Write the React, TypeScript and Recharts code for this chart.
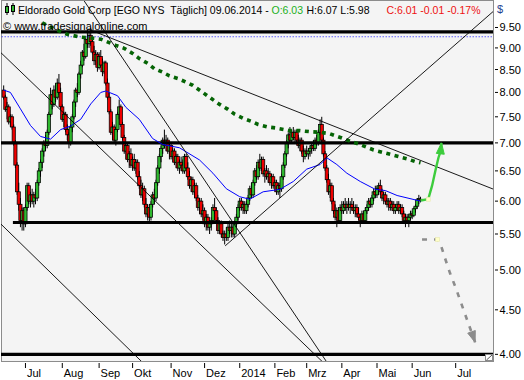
import React from 'react';
import { ComposedChart, Bar, Line, XAxis, YAxis } from 'recharts';

type OHLC = [number, number, number, number];

// Daily candles [open, high, low, close], grouped by month (EGO, NYSE)
const jun13: OHLC[] = [
  [8.05, 8.15, 7.85, 7.90], [7.90, 7.95, 7.60, 7.65], [7.65, 7.80, 7.45, 7.70], [7.70, 7.75, 7.35, 7.40],
  [7.40, 7.55, 7.30, 7.50], [7.50, 7.55, 7.25, 7.30], [7.30, 7.35, 6.95, 7.00], [7.00, 7.05, 6.55, 6.60],
  [6.60, 6.65, 6.10, 6.15], [6.15, 6.30, 5.85, 5.95], [5.95, 6.05, 5.60, 5.70], [5.70, 5.90, 5.55, 5.85],
  [5.85, 5.90, 5.55, 5.65],
];
const jul13: OHLC[] = [
  [5.65, 5.95, 5.60, 5.90], [5.90, 6.30, 5.85, 6.25], [6.25, 6.30, 5.95, 6.00], [6.00, 6.15, 5.90, 6.10],
  [6.10, 6.20, 5.95, 6.00], [6.00, 6.15, 5.90, 6.10], [6.10, 6.20, 5.95, 6.05], [6.05, 6.35, 6.00, 6.30],
  [6.30, 6.55, 6.25, 6.50], [6.50, 6.70, 6.40, 6.65], [6.65, 6.90, 6.55, 6.85], [6.85, 7.05, 6.75, 7.00],
  [7.00, 7.15, 6.85, 6.95], [6.95, 7.25, 6.90, 7.20], [7.20, 7.60, 7.15, 7.55], [7.55, 8.10, 7.50, 7.95],
  [7.95, 8.05, 7.65, 7.75], [7.75, 8.15, 7.70, 8.05], [8.05, 8.20, 7.80, 7.90], [7.90, 8.30, 7.85, 8.20],
  [8.20, 8.40, 7.95, 8.00], [8.00, 8.10, 7.65, 7.70],
];
const aug13: OHLC[] = [
  [7.70, 7.75, 7.40, 7.45], [7.45, 7.60, 7.30, 7.55], [7.55, 7.60, 7.20, 7.25], [7.25, 7.35, 7.05, 7.15],
  [7.15, 7.20, 6.90, 7.00], [7.00, 7.35, 6.95, 7.30], [7.30, 7.55, 7.20, 7.50], [7.50, 7.85, 7.45, 7.80],
  [7.80, 8.10, 7.70, 8.05], [8.05, 8.20, 7.90, 8.00], [8.00, 8.45, 7.95, 8.40], [8.40, 8.70, 8.30, 8.60],
  [8.60, 8.95, 8.55, 8.90], [8.90, 9.10, 8.70, 8.80], [8.80, 9.25, 8.75, 9.20], [9.20, 9.45, 9.00, 9.10],
  [9.10, 9.40, 9.00, 9.30], [9.30, 9.50, 9.05, 9.15], [9.15, 9.25, 8.85, 8.90], [8.90, 9.05, 8.60, 8.70],
  [8.70, 8.95, 8.60, 8.85], [8.85, 8.90, 8.45, 8.55],
];
const sep13: OHLC[] = [
  [8.55, 8.90, 8.50, 8.80], [8.80, 8.95, 8.55, 8.60], [8.60, 8.75, 8.35, 8.45], [8.45, 8.70, 8.40, 8.65],
  [8.65, 8.70, 8.15, 8.20], [8.20, 8.30, 7.85, 7.90], [7.90, 8.00, 7.55, 7.60], [7.60, 7.65, 7.15, 7.20],
  [7.20, 7.40, 7.05, 7.30], [7.30, 7.35, 7.00, 7.05], [7.05, 7.30, 6.95, 7.25], [7.25, 7.60, 7.20, 7.55],
  [7.55, 7.85, 7.45, 7.70], [7.70, 7.75, 7.30, 7.35], [7.35, 7.40, 7.05, 7.10], [7.10, 7.15, 6.80, 6.85],
  [6.85, 7.00, 6.70, 6.95], [6.95, 7.00, 6.65, 6.70], [6.70, 6.85, 6.55, 6.80], [6.80, 6.90, 6.55, 6.60],
];
const oct13: OHLC[] = [
  [6.60, 6.75, 6.50, 6.70], [6.70, 6.80, 6.50, 6.55], [6.55, 6.70, 6.45, 6.65], [6.65, 6.70, 6.35, 6.40],
  [6.40, 6.50, 6.20, 6.25], [6.25, 6.35, 6.05, 6.10], [6.10, 6.30, 6.00, 6.20], [6.20, 6.25, 5.90, 5.95],
  [5.95, 6.05, 5.75, 5.80], [5.80, 5.95, 5.70, 5.90], [5.90, 5.95, 5.65, 5.75], [5.75, 6.00, 5.70, 5.95],
  [5.95, 6.15, 5.90, 6.10], [6.10, 6.20, 5.95, 6.05], [6.05, 6.35, 6.00, 6.30], [6.30, 6.60, 6.25, 6.55],
  [6.55, 6.80, 6.45, 6.75], [6.75, 6.95, 6.65, 6.90], [6.90, 7.10, 6.80, 7.05], [7.05, 7.25, 6.90, 6.95],
  [6.95, 7.15, 6.85, 7.05], [7.05, 7.10, 6.80, 6.85], [6.85, 7.00, 6.70, 6.95],
];
const nov13: OHLC[] = [
  [6.95, 7.00, 6.70, 6.75], [6.75, 6.90, 6.65, 6.85], [6.85, 6.90, 6.60, 6.65], [6.65, 6.80, 6.55, 6.75],
  [6.75, 6.80, 6.50, 6.55], [6.55, 6.70, 6.45, 6.65], [6.65, 6.75, 6.50, 6.60], [6.60, 6.70, 6.45, 6.50],
  [6.50, 6.80, 6.45, 6.75], [6.75, 6.80, 6.50, 6.55], [6.55, 6.65, 6.35, 6.40], [6.40, 6.50, 6.20, 6.25],
  [6.25, 6.40, 6.15, 6.35], [6.35, 6.40, 6.10, 6.15], [6.15, 6.30, 6.05, 6.25], [6.25, 6.30, 6.00, 6.05],
  [6.05, 6.10, 5.85, 5.90], [5.90, 6.05, 5.80, 6.00], [6.00, 6.05, 5.75, 5.80], [5.80, 5.95, 5.70, 5.85],
];
const dec13: OHLC[] = [
  [5.85, 5.90, 5.60, 5.65], [5.65, 5.80, 5.55, 5.75], [5.75, 5.80, 5.55, 5.60], [5.60, 5.70, 5.50, 5.65],
  [5.65, 5.75, 5.55, 5.70], [5.70, 5.95, 5.65, 5.90], [5.90, 6.05, 5.80, 5.85], [5.85, 5.90, 5.65, 5.70],
  [5.70, 5.75, 5.50, 5.55], [5.55, 5.70, 5.50, 5.65], [5.65, 5.70, 5.45, 5.50], [5.50, 5.55, 5.40, 5.45],
  [5.45, 5.55, 5.35, 5.50], [5.50, 5.60, 5.40, 5.45], [5.45, 5.65, 5.40, 5.60], [5.60, 5.70, 5.50, 5.55],
  [5.55, 5.65, 5.45, 5.60], [5.60, 5.65, 5.45, 5.50], [5.50, 5.70, 5.45, 5.65], [5.65, 5.80, 5.60, 5.75],
  [5.75, 5.95, 5.70, 5.90],
];
const jan14: OHLC[] = [
  [5.90, 6.05, 5.85, 6.00], [6.00, 6.05, 5.85, 5.90], [5.90, 6.00, 5.80, 5.95], [5.95, 6.00, 5.80, 5.85],
  [5.85, 6.00, 5.80, 5.95], [5.95, 6.10, 5.90, 6.05], [6.05, 6.25, 6.00, 6.20], [6.20, 6.30, 6.05, 6.10],
  [6.10, 6.35, 6.05, 6.30], [6.30, 6.55, 6.25, 6.50], [6.50, 6.60, 6.35, 6.40], [6.40, 6.70, 6.35, 6.65],
  [6.65, 6.80, 6.50, 6.55], [6.55, 6.75, 6.50, 6.70], [6.70, 6.75, 6.40, 6.45], [6.45, 6.55, 6.30, 6.50],
  [6.50, 6.60, 6.35, 6.40], [6.40, 6.55, 6.30, 6.45], [6.45, 6.50, 6.25, 6.30], [6.30, 6.45, 6.20, 6.40],
  [6.40, 6.45, 6.20, 6.25],
];
const feb14: OHLC[] = [
  [6.25, 6.35, 6.15, 6.30], [6.30, 6.35, 6.10, 6.15], [6.15, 6.30, 6.10, 6.25], [6.25, 6.30, 6.05, 6.20],
  [6.20, 6.45, 6.15, 6.40], [6.40, 6.65, 6.35, 6.60], [6.60, 6.85, 6.55, 6.80], [6.80, 7.05, 6.75, 7.00],
  [7.00, 7.20, 6.90, 7.15], [7.15, 7.30, 7.00, 7.05], [7.05, 7.25, 7.00, 7.20], [7.20, 7.30, 7.05, 7.10],
  [7.10, 7.25, 7.00, 7.20], [7.20, 7.25, 7.00, 7.05], [7.05, 7.15, 6.90, 6.95], [6.95, 7.10, 6.85, 7.05],
  [7.05, 7.10, 6.80, 6.85], [6.85, 6.95, 6.65, 6.75], [6.75, 6.90, 6.70, 6.85],
];
const mar14: OHLC[] = [
  [6.85, 6.95, 6.75, 6.80], [6.80, 6.90, 6.70, 6.85], [6.85, 6.95, 6.75, 6.90], [6.90, 7.00, 6.80, 6.95],
  [6.95, 7.05, 6.85, 6.90], [6.90, 7.10, 6.85, 7.05], [7.05, 7.15, 6.95, 7.00], [7.00, 7.25, 6.95, 7.20],
  [7.20, 7.45, 7.15, 7.35], [7.35, 7.50, 7.00, 7.05], [7.05, 7.10, 6.75, 6.80], [6.80, 6.85, 6.50, 6.55],
  [6.55, 6.60, 6.30, 6.35], [6.35, 6.45, 6.10, 6.15], [6.15, 6.30, 6.05, 6.25], [6.25, 6.30, 5.95, 6.00],
  [6.00, 6.05, 5.80, 5.85], [5.85, 5.95, 5.70, 5.75], [5.75, 5.90, 5.60, 5.85], [5.85, 5.90, 5.65, 5.70],
  [5.70, 5.95, 5.65, 5.90],
];
const apr14: OHLC[] = [
  [5.90, 6.00, 5.80, 5.85], [5.85, 6.00, 5.80, 5.95], [5.95, 6.05, 5.85, 5.90], [5.90, 6.00, 5.80, 5.95],
  [5.95, 6.05, 5.85, 5.90], [5.90, 6.00, 5.80, 5.95], [5.95, 6.05, 5.85, 5.90], [5.90, 6.00, 5.80, 5.85],
  [5.85, 5.95, 5.75, 5.90], [5.90, 5.95, 5.75, 5.80], [5.80, 5.90, 5.70, 5.75], [5.75, 5.80, 5.60, 5.70],
  [5.70, 5.85, 5.65, 5.80], [5.80, 5.85, 5.65, 5.70], [5.70, 5.90, 5.65, 5.85], [5.85, 5.95, 5.80, 5.90],
  [5.90, 6.05, 5.85, 6.00], [6.00, 6.05, 5.90, 5.95], [5.95, 6.10, 5.90, 6.05], [6.05, 6.20, 6.00, 6.15],
  [6.15, 6.25, 6.05, 6.10],
];
const may14: OHLC[] = [
  [6.10, 6.25, 6.05, 6.20], [6.20, 6.30, 6.10, 6.25], [6.25, 6.35, 6.10, 6.15], [6.15, 6.20, 6.00, 6.05],
  [6.05, 6.15, 5.95, 6.10], [6.10, 6.15, 5.95, 6.00], [6.00, 6.05, 5.90, 5.95], [5.95, 6.05, 5.85, 6.00],
  [6.00, 6.05, 5.85, 5.90], [5.90, 6.00, 5.85, 5.95], [5.95, 6.00, 5.80, 5.85], [5.85, 5.95, 5.80, 5.90],
  [5.90, 6.00, 5.85, 5.95], [5.95, 6.00, 5.80, 5.85], [5.85, 5.95, 5.80, 5.90], [5.90, 5.95, 5.75, 5.80],
  [5.80, 5.85, 5.65, 5.70], [5.70, 5.80, 5.60, 5.75], [5.75, 5.80, 5.65, 5.70], [5.70, 5.80, 5.60, 5.75],
  [5.75, 5.85, 5.70, 5.80],
];
const jun14: OHLC[] = [
  [5.80, 5.85, 5.72, 5.78], [5.78, 5.90, 5.75, 5.88], [5.88, 5.95, 5.82, 5.92], [5.92, 6.05, 5.88, 6.02],
  [6.02, 6.10, 5.95, 6.04], [6.03, 6.07, 5.98, 6.01],
];

// Month ticks (trading-day index) and labels
const monthTickIndex = [13, 35, 57, 77, 100, 120, 141, 162, 181, 202, 223, 244, 270];
const monthTickLabel = ['Jul', 'Aug', 'Sep', 'Okt', 'Nov', 'Dez', '2014', 'Feb', 'Mrz', 'Apr', 'Mai', 'Jun', 'Jul'];
const priceTicks = [4, 4.5, 5, 5.5, 6, 6.5, 7, 7.5, 8, 8.5, 9, 9.5];

// Moving averages [index, value]
const maShort: [number, number][] = [
  [0, 8.05], [4, 8.0], [10, 7.66], [16, 7.33], [22, 7.12], [28, 7.07], [34, 7.25], [40, 7.32], [46, 7.45],
  [52, 7.76], [58, 8.0], [61, 8.03], [68, 7.93], [73, 7.69], [81, 7.45], [89, 7.08], [95, 6.97], [105, 6.91],
  [117, 6.69], [125, 6.46], [133, 6.2], [141, 6.07], [147, 6.03], [155, 6.15], [165, 6.19], [173, 6.32],
  [181, 6.53], [189, 6.61], [193, 6.73], [199, 6.61], [205, 6.46], [213, 6.32], [222, 6.19], [228, 6.17],
  [235, 6.09], [249, 6.0],
];
const maLong: [number, number][] = [
  [23, 9.62], [31, 9.45], [38, 9.33], [46, 9.26], [52, 9.24], [58, 9.21], [67, 9.06], [72, 8.99], [77, 8.87],
  [81, 8.75], [86, 8.64], [90, 8.52], [95, 8.44], [99, 8.36], [104, 8.3], [109, 8.22], [113, 8.15], [129, 7.75],
  [134, 7.65], [138, 7.55], [143, 7.47], [148, 7.41], [152, 7.35], [158, 7.3], [163, 7.28], [171, 7.23],
  [177, 7.23], [183, 7.21], [189, 7.2], [195, 7.17], [202, 7.09], [207, 7.03], [212, 6.98], [216, 6.93],
  [221, 6.87], [226, 6.83], [231, 6.79], [236, 6.75], [241, 6.71], [246, 6.66], [249, 6.64],
];

// Horizontal levels
const levelTop = 9.39;
const levelDotted = 9.27;
const levelResistance = 7.0;
const levelSupport = 5.67;
const levelFloor = 4.0;
const supportFrom = 5.5;

// Trend lines [index, price]
const trendA: [number, number][] = [[-2, 8.9], [196, 3.83]];
const trendB: [number, number][] = [[45.6, 10.36], [194.9, 3.87]];
const trendC: [number, number][] = [[-2.2, 5.66], [87.4, 3.84]];
const trendD: [number, number][] = [[50.4, 9.46], [296.5, 6.15]];
const trendE: [number, number][] = [[132.3, 5.33], [296.5, 10.07]];

// Scenario arrows [index, price]
const arrowUp: [number, number][] = [
  [249, 6.01], [253.6, 6.03], [255.9, 6.25], [258, 6.52], [259.7, 6.73], [260.9, 6.84], [261.5, 7.0],
];
const arrowDown: [number, number][] = [
  [249.9, 5.42], [259.1, 5.42], [261.3, 5.33], [263.6, 5.16], [266.6, 4.96], [270.2, 4.76], [273.8, 4.55],
  [277.4, 4.35], [279.5, 4.24], [281.6, 4.13],
];

const X_DOMAIN: [number, number] = [-1.61, 292.29];
const Y_DOMAIN: [number, number] = [3.93, 10.19];

const GREEN = '#2fb82f';
const RED = '#ee0000';
const FONT = '"Liberation Sans", Arial, sans-serif';

const candles = [jun13, jul13, aug13, sep13, oct13, nov13, dec13, jan14, feb14, mar14, apr14, may14, jun14]
  .flat()
  .map(([o, h, l, c], i) => ({ i, o, h, l, c, range: [l, h] }));

const pts = (arr: [number, number][]) => arr.map(([i, v]) => ({ i, v }));
const hline = (v: number, from = -3) => [{ i: from, v }, { i: 300, v }];

const Candle = (props: any) => {
  const { x, y, width, height, payload } = props;
  if (!payload || x == null || y == null) return <g />;
  const cx = x + width / 2;
  const top = Math.min(y, y + height);
  const bot = Math.max(y, y + height);
  const lh = Math.log(payload.h);
  const ll = Math.log(payload.l);
  const span = lh - ll;
  const py = (p: number) => (span > 0 ? top + ((lh - Math.log(p)) / span) * (bot - top) : top);
  const up = payload.c > payload.o;
  const bTop = py(Math.max(payload.o, payload.c));
  let bBot = py(Math.min(payload.o, payload.c));
  if (bBot - bTop < 1) bBot = bTop + 1;
  return (
    <g>
      <line x1={cx} x2={cx} y1={top} y2={bot} stroke="#000" strokeWidth={1} />
      <rect x={cx - 1.6} y={bTop} width={3.2} height={bBot - bTop} fill={up ? GREEN : RED} stroke="#000" strokeWidth={0.75} />
    </g>
  );
};

const makeArrowDot = (n: number, angleDeg: number, color: string, markIdx: number) => (props: any) => {
  const { cx, cy, index } = props;
  if (index === n - 1) {
    const a = (angleDeg * Math.PI) / 180;
    const dx = Math.cos(a), dy = Math.sin(a);
    const L = 11, W = 4;
    const bx = cx - L * dx, by = cy - L * dy;
    const p = `${cx},${cy} ${bx - W * dy},${by + W * dx} ${bx + W * dy},${by - W * dx}`;
    return <polygon key={`h${index}`} points={p} fill={color} stroke={color} strokeWidth={1} strokeDasharray="0" />;
  }
  if (index === markIdx) {
    return <rect key={`m${index}`} x={cx - 2} y={cy - 2} width={4} height={4} fill="#ffffc8" stroke="#e8e8b0" strokeWidth={0.6} strokeDasharray="0" />;
  }
  return <g key={`n${index}`} />;
};

const XTick = (props: any) => {
  const { x, y, payload } = props;
  const idx = monthTickIndex.indexOf(payload.value);
  return (
    <g>
      <line x1={x} x2={x} y1={y + 2} y2={y + 7} stroke="#000" strokeWidth={1} />
      <text x={x + 1.5} y={y + 16} fontSize={11} fontFamily={FONT} fill="#000">{monthTickLabel[idx]}</text>
    </g>
  );
};

const YTick = (props: any) => {
  const { x, y, payload } = props;
  return (
    <g>
      <line x1={x + 2} x2={x + 5} y1={y} y2={y} stroke="#000" strokeWidth={1} />
      <text x={x + 6.5} y={y + 4} fontSize={11} fontFamily={FONT} fill="#000">{Number(payload.value).toFixed(2)}</text>
    </g>
  );
};

const lineCommon = { dataKey: 'v', dot: false, activeDot: false, isAnimationActive: false, legendType: 'none' as const, type: 'linear' as const };

export default function App() {
  return (
    <div style={{ position: 'absolute', left: 0, top: 0, width: 524, height: 380, background: '#fff' }}>
      <div style={{ position: 'absolute', left: 1, top: 0, width: 493, height: 362, boxSizing: 'border-box', background: '#f4f4f4', border: '1px solid #8c8c8c' }} />
      <div style={{ position: 'absolute', left: 0, top: 0 }}>
        <ComposedChart width={524} height={380} data={candles} margin={{ top: 1, right: 0, bottom: 0, left: 1 }}>
          <XAxis dataKey="i" type="number" domain={X_DOMAIN} allowDataOverflow ticks={monthTickIndex} interval={0}
            height={19} tickSize={0} tickMargin={0} axisLine={false} tickLine={false} tick={<XTick />} />
          <YAxis orientation="right" type="number" scale="log" domain={Y_DOMAIN} allowDataOverflow ticks={priceTicks}
            interval={0} width={31} tickSize={0} tickMargin={0} axisLine={false} tickLine={false} tick={<YTick />} />
          <Bar dataKey="range" barSize={3} shape={Candle} isAnimationActive={false} legendType="none" />
          <Line {...lineCommon} data={hline(levelTop)} stroke="#000" strokeWidth={3.2} />
          <Line {...lineCommon} data={hline(levelDotted)} stroke="#1010ff" strokeWidth={1} strokeDasharray="1 2" />
          <Line {...lineCommon} data={hline(levelResistance)} stroke="#000" strokeWidth={3.2} />
          <Line {...lineCommon} data={hline(levelSupport, supportFrom)} stroke="#000" strokeWidth={3.2} />
          <Line {...lineCommon} data={hline(levelFloor)} stroke="#000" strokeWidth={3.2} />
          <Line {...lineCommon} data={pts(maShort)} stroke="#0000ff" strokeWidth={1} />
          <Line {...lineCommon} data={pts(maLong)} stroke="#056405" strokeWidth={3.6} strokeDasharray="4 4.5" />
          <Line {...lineCommon} data={pts(trendA)} stroke="#000" strokeWidth={0.9} />
          <Line {...lineCommon} data={pts(trendB)} stroke="#000" strokeWidth={0.9} />
          <Line {...lineCommon} data={pts(trendC)} stroke="#000" strokeWidth={0.9} />
          <Line {...lineCommon} data={pts(trendD)} stroke="#000" strokeWidth={0.9} />
          <Line {...lineCommon} data={pts(trendE)} stroke="#000" strokeWidth={0.9} />
          <Line {...lineCommon} data={pts(arrowUp)} stroke="#3ccc3c" strokeWidth={2.4}
            dot={makeArrowDot(arrowUp.length, -84, '#3ccc3c', 1)} />
          <Line {...lineCommon} data={pts(arrowDown)} stroke="#8c8c8c" strokeWidth={2.6} strokeDasharray="5 7"
            dot={makeArrowDot(arrowDown.length, 71, '#8c8c8c', 1)} />
        </ComposedChart>
      </div>
      <svg width={524} height={380} style={{ position: 'absolute', left: 0, top: 0, pointerEvents: 'none' }}>
        <line x1={7} x2={7} y1={3} y2={15} stroke="#000" strokeWidth={1} />
        <rect x={5.5} y={6.5} width={3} height={6} fill={GREEN} stroke="#000" strokeWidth={1} />
        <line x1={13} x2={13} y1={3} y2={15} stroke="#000" strokeWidth={1} />
        <rect x={11.5} y={5.5} width={3} height={6} fill={GREEN} stroke="#000" strokeWidth={1} />
        <text y={14} fontSize={10.5} fontFamily={FONT} fill="#000" style={{ whiteSpace: 'pre' }}>
          <tspan x={18}>Eldorado Gold Corp [EGO NYS  Täglich] 09.06.2014 -</tspan>
          <tspan x={271.5} fill="#22b022">O:6.03</tspan>
          <tspan x={306.5} fill="#000">H:6.07 L:5.98</tspan>
          <tspan x={386.5} fill="#ee1111">C:6.01 -0.01 -0.17%</tspan>
        </text>
        <text x={3} y={30} fontSize={11} fontFamily={FONT} fill="#000">© www.tradesignalonline.com</text>
        <text x={497} y={13} fontSize={11} fontFamily={FONT} fill="#23408e">$</text>
        <rect x={485.5} y={354.5} width={7} height={6} fill="#fff" stroke="#8c8c8c" strokeWidth={1} />
        <line x1={486.5} y1={360} x2={492} y2={355} stroke="#555" strokeWidth={1} />
      </svg>
    </div>
  );
}
